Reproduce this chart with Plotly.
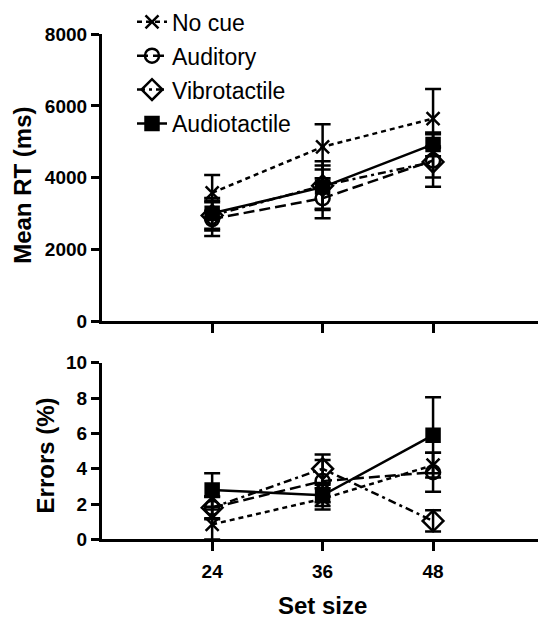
import plotly.graph_objects as go

# ---------------- data ----------------
set_size = [24, 36, 48]
conditions = ["No cue", "Auditory", "Vibrotactile", "Audiotactile"]

rt_no_cue = [3580, 4860, 5650]
rt_no_cue_sem = [500, 630, 820]
rt_auditory = [2850, 3430, 4480]
rt_auditory_sem = [470, 560, 730]
rt_vibro = [2950, 3780, 4440]
rt_vibro_sem = [420, 680, 430]
rt_audiotactile = [3010, 3740, 4930]
rt_audiotactile_sem = [430, 600, 330]

err_no_cue = [0.85, 2.3, 4.2]
err_no_cue_sem = [0.85, 0.6, 0.7]
err_auditory = [1.8, 3.3, 3.8]
err_auditory_sem = [0.65, 1.2, 1.1]
err_vibro = [1.8, 4.0, 1.05]
err_vibro_sem = [0.6, 0.8, 0.6]
err_audiotactile = [2.8, 2.5, 5.9]
err_audiotactile_sem = [0.95, 0.6, 2.15]

rt_tick_vals = [0, 2000, 4000, 6000, 8000]
err_tick_vals = [0, 2, 4, 6, 8, 10]

# ---------------- styles ----------------
FONT = "Arial, Liberation Sans, sans-serif"
styles = {
    "No cue": dict(symbol="x-thin-open", size=13, dash="5px,4px"),
    "Auditory": dict(symbol="circle-open", size=14, dash="11px,5px"),
    "Vibrotactile": dict(symbol="diamond-open", size=16, dash="8px,4px,3px,4px"),
    "Audiotactile": dict(symbol="square", size=13, dash="solid"),
}
rt_data = {
    "No cue": (rt_no_cue, rt_no_cue_sem),
    "Auditory": (rt_auditory, rt_auditory_sem),
    "Vibrotactile": (rt_vibro, rt_vibro_sem),
    "Audiotactile": (rt_audiotactile, rt_audiotactile_sem),
}
err_data = {
    "No cue": (err_no_cue, err_no_cue_sem),
    "Auditory": (err_auditory, err_auditory_sem),
    "Vibrotactile": (err_vibro, err_vibro_sem),
    "Audiotactile": (err_audiotactile, err_audiotactile_sem),
}

fig = go.Figure()

for name in conditions:
    st = styles[name]
    for panel, data, xa, ya, show in (("rt", rt_data, "x", "y", True),
                                       ("err", err_data, "x2", "y2", False)):
        vals, sem = data[name]
        fig.add_trace(go.Scatter(
            x=set_size, y=vals, name=name, xaxis=xa, yaxis=ya,
            mode="lines+markers", showlegend=show, legendgroup=name,
            line=dict(color="black", width=2.5, dash=st["dash"]),
            marker=dict(symbol=st["symbol"], size=st["size"], color="black",
                        line=dict(color="black", width=2.5)),
            error_y=dict(type="data", array=sem, visible=True,
                         color="black", thickness=2.5, width=8),
            cliponaxis=False,
        ))

W, H = 538, 621
x0, x1 = 101.7 / W, 1.0
top_dom = [1 - 322.3 / H, 1 - 25 / H]
bot_dom = [1 - 548 / H, 1 - 365 / H]

axis_common = dict(
    showline=True, linecolor="black", linewidth=2.5,
    ticks="outside", tickcolor="black", tickwidth=2.5,
    showgrid=False, zeroline=False,
    tickfont=dict(family=FONT, size=19, color="black", weight="bold"),
)

fig.update_layout(
    width=W, height=H,
    margin=dict(l=0, r=0, t=0, b=0),
    paper_bgcolor="white", plot_bgcolor="white",
    font=dict(family=FONT, color="black"),
    xaxis=dict(domain=[x0, x1], anchor="y", range=[12, 59.4],
               tickvals=set_size, showticklabels=False, ticklen=9, **axis_common),
    yaxis=dict(domain=top_dom, anchor="x", range=[0, 8000],
               tickvals=rt_tick_vals, ticklen=8, **axis_common),
    xaxis2=dict(domain=[x0, x1], anchor="y2", range=[12, 59.4], matches="x",
                tickvals=set_size, ticklen=9, ticklabelstandoff=4, **axis_common),
    yaxis2=dict(domain=bot_dom, anchor="x2", range=[0, 10],
                tickvals=err_tick_vals, ticklen=8, **axis_common),
    legend=dict(x=132 / W, y=1 + 10 / H, xanchor="left", yanchor="top",
                bgcolor="rgba(0,0,0,0)", tracegroupgap=1,
                font=dict(family=FONT, size=23, color="black")),
    annotations=[
        dict(text="<b>Mean RT (ms)</b>", textangle=-90, xref="paper", yref="paper",
             x=23 / W, y=1 - 182 / H, xanchor="center", yanchor="middle",
             showarrow=False, font=dict(family=FONT, size=24, color="black")),
        dict(text="<b>Errors (%)</b>", textangle=-90, xref="paper", yref="paper",
             x=45 / W, y=1 - 461 / H, xanchor="center", yanchor="middle",
             showarrow=False, font=dict(family=FONT, size=24, color="black")),
        dict(text="<b>Set size</b>", xref="paper", yref="paper",
             x=322 / W, y=1 - 616 / H, xanchor="center", yanchor="middle",
             showarrow=False, font=dict(family=FONT, size=24, color="black")),
    ],
)

fig.write_html("out.html")
